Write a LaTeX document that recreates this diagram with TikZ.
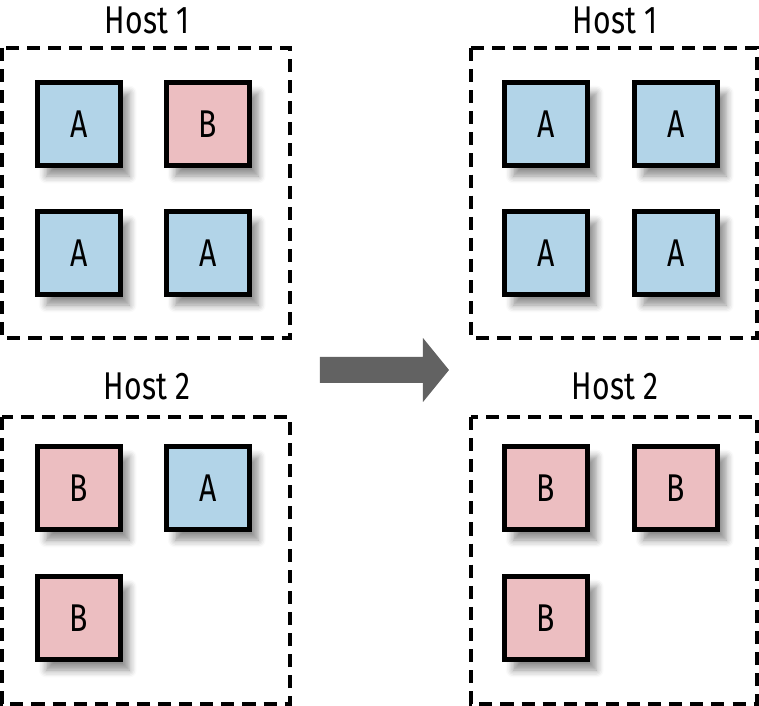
\documentclass[tikz,border=0pt]{standalone}
\usepackage{fontspec}
\setmainfont{Fira Sans}[FakeStretch=0.78]
\usetikzlibrary{shadows.blur}
\definecolor{podblue}{RGB}{178,212,232}
\definecolor{podpink}{RGB}{236,190,193}
\definecolor{arrowgray}{RGB}{98,98,98}
\begin{document}
\begin{tikzpicture}[x=0.01cm, y=-0.01cm,
		host/.style={draw, line width=1.05pt, dash pattern=on 3.7pt off 2.3pt},
		hostlabel/.style={font=\fontsize{11}{13}\selectfont},
		pod/.style={draw, line width=1.35pt, minimum size=0.83cm, inner sep=0pt,
			font=\fontsize{11}{13}\selectfont,
			blur shadow={shadow xshift=2.5pt, shadow yshift=-3pt, shadow blur steps=6, shadow opacity=45}},
		apod/.style={pod, fill=podblue},
		bpod/.style={pod, fill=podpink}]
	\useasboundingbox (0, 0) rectangle (759, 706);

	% before
		\node[hostlabel] (l1) at (147, 20) {Host 1};
		\draw[host] (2, 48) rectangle (290, 338);
			\node[apod] (la1) at (79, 124) {A};
			\node[bpod] (lb1) at (208, 124) {B};
			\node[apod] (la2) at (79, 253) {A};
			\node[apod] (la3) at (208, 253) {A};

		\node[hostlabel] (l2) at (147, 386) {Host 2};
		\draw[host] (2, 417) rectangle (290, 704);
			\node[bpod] (lb2) at (79, 488) {B};
			\node[apod] (la4) at (208, 488) {A};
			\node[bpod] (lb3) at (79, 618) {B};

	% arrow
		\fill[arrowgray] (320, 357) -- (423, 357) -- (423, 338) -- (449, 370)
			-- (423, 402) -- (423, 383) -- (320, 383) -- cycle;

	% after
		\node[hostlabel] (r1) at (615, 20) {Host 1};
		\draw[host] (471, 48) rectangle (757, 338);
			\node[apod] (ra1) at (546, 124) {A};
			\node[apod] (ra2) at (676, 124) {A};
			\node[apod] (ra3) at (546, 253) {A};
			\node[apod] (ra4) at (676, 253) {A};

		\node[hostlabel] (r2) at (615, 386) {Host 2};
		\draw[host] (471, 417) rectangle (757, 704);
			\node[bpod] (rb1) at (546, 488) {B};
			\node[bpod] (rb2) at (676, 488) {B};
			\node[bpod] (rb3) at (546, 618) {B};
\end{tikzpicture}
\end{document}
